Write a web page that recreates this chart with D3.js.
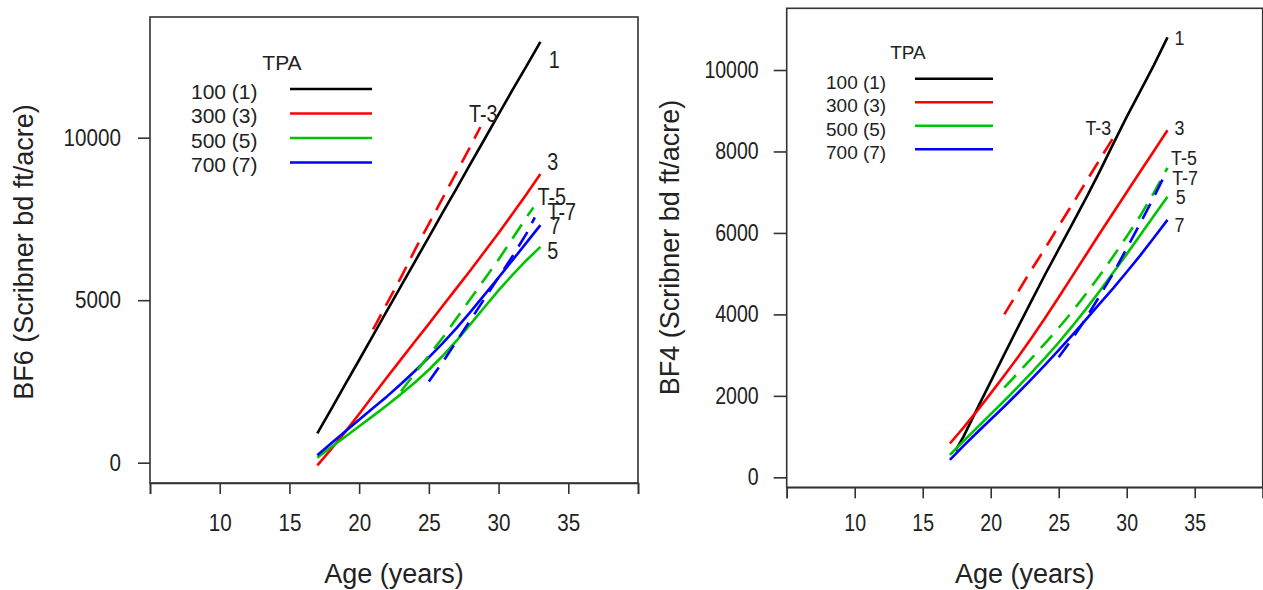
<!DOCTYPE html>
<html>
<head>
<meta charset="utf-8">
<script src="https://cdn.jsdelivr.net/npm/d3@7"></script>
<style>
  html, body { margin: 0; padding: 0; background: #fff; }
  svg { display: block; }
  text { font-family: "Liberation Sans", Arial, sans-serif; fill: #222; }
</style>
</head>
<body>
<svg id="chart" width="1263" height="590"></svg>
<script>
// ---- data ----------------------------------------------------------------
const tpaLabels = ["100 (1)", "300 (3)", "500 (5)", "700 (7)"];
const seriesColors = ["#000000", "#ff0000", "#00c400", "#0000ff"];
const xTicks = [5, 10, 15, 20, 25, 30, 35, 40];
const xTickLabels = ["", "10", "15", "20", "25", "30", "35", ""];

// stand age (years) for the untreated curves
const ages = [17, 18, 19, 20, 21, 22, 23, 24, 25, 26, 27, 28, 29, 30, 31, 32, 33];

// BF6 (Scribner bd ft/acre)
const bf6Tpa100 = [900, 1650, 2410, 3160, 3920, 4680, 5430, 6190, 6940, 7700, 8450, 9210, 9960, 10720, 11470, 12200, 12950];
const bf6Tpa300 = [-80, 420, 950, 1500, 2070, 2630, 3180, 3730, 4270, 4830, 5380, 5930, 6500, 7070, 7660, 8260, 8880];
const bf6Tpa500 = [150, 480, 800, 1120, 1440, 1770, 2110, 2470, 2860, 3290, 3760, 4270, 4790, 5300, 5780, 6230, 6640];
const bf6Tpa700 = [230, 600, 960, 1320, 1680, 2040, 2420, 2820, 3240, 3680, 4150, 4650, 5170, 5700, 6230, 6770, 7310];
// thinned to 300, 500, 700 TPA
const bf6T3Ages = [21, 22, 23, 24, 25, 26, 27, 28, 28.7];
const bf6T3 = [4100, 4900, 5700, 6550, 7350, 8150, 8950, 9750, 10330];
const bf6T5Ages = [23, 24, 25, 26, 27, 28, 29, 30, 31, 32, 32.5];
const bf6T5 = [2200, 2750, 3300, 3850, 4450, 5050, 5650, 6250, 6900, 7550, 7850];
const bf6T7Ages = [25, 26, 27, 28, 29, 30, 31, 32, 32.6];
const bf6T7 = [2500, 3100, 3750, 4400, 5050, 5700, 6350, 7050, 7550];

// BF4 (Scribner bd ft/acre)
const bf4Tpa100Ages = [17.4, 18, 19, 20, 21, 22, 23, 24, 25, 26, 27, 28, 29, 30, 31, 32, 33];
const bf4Tpa100 = [650, 1000, 1680, 2350, 3020, 3680, 4330, 4980, 5600, 6220, 6850, 7500, 8180, 8850, 9480, 10120, 10800];
const bf4Tpa300 = [830, 1220, 1630, 2060, 2500, 2950, 3420, 3910, 4420, 4940, 5460, 5980, 6490, 7000, 7510, 8010, 8520];
const bf4Tpa500 = [550, 890, 1220, 1550, 1880, 2220, 2570, 2930, 3310, 3710, 4130, 4570, 5020, 5480, 5950, 6420, 6890];
const bf4Tpa700 = [430, 770, 1100, 1420, 1740, 2070, 2410, 2760, 3120, 3490, 3870, 4260, 4640, 5040, 5450, 5880, 6320];
const bf4T3Ages = [21, 22, 23, 24, 25, 26, 27, 28, 29];
const bf4T3 = [4000, 4550, 5100, 5620, 6170, 6700, 7250, 7790, 8330];
const bf4T5Ages = [21, 22, 23, 24, 25, 26, 27, 28, 29, 30, 31, 32, 33];
const bf4T5 = [2200, 2560, 2920, 3290, 3670, 4070, 4500, 4950, 5420, 5910, 6420, 6990, 7600];
const bf4T7Ages = [25, 26, 27, 28, 29, 30, 31, 32, 32.85];
const bf4T7 = [2950, 3400, 3900, 4450, 5000, 5620, 6240, 6880, 7460];

// end-of-curve tags: text, age, value
const bf6Tags = [["1", 34.0, 12410], ["T-3", 28.9, 10750], ["3", 33.88, 9260], ["T-5", 33.81, 8185],
                 ["T-7", 34.53, 7720], ["7", 34.05, 7280], ["5", 33.88, 6520]];
const bf4Tags = [["1", 33.87, 10800], ["T-3", 27.91, 8590], ["3", 33.87, 8590], ["T-5", 34.21, 7850],
                 ["T-7", 34.29, 7360], ["5", 33.97, 6890], ["7", 33.87, 6220]];

// ---- drawing -------------------------------------------------------------
const svg = d3.select("#chart");

function zip(xs, ys) { return xs.map((x, i) => ({ x, y: ys[i] })); }

function panel(cfg) {
  const x = d3.scaleLinear().domain([5, 40]).range([cfg.left, cfg.right]);
  const y = d3.scaleLinear().domain(cfg.yDomain).range([cfg.bottom, cfg.top]);
  const g = svg.append("g");

  // frame
  g.append("rect")
    .attr("x", cfg.left).attr("y", cfg.top)
    .attr("width", cfg.right - cfg.left).attr("height", cfg.bottom - cfg.top)
    .attr("fill", "none").attr("stroke", "#333").attr("stroke-width", 1.6);

  // x axis
  const xa = g.append("g").attr("transform", `translate(0,${cfg.bottom})`)
    .call(d3.axisBottom(x).tickValues(xTicks).tickSize(cfg.xTickLen).tickPadding(cfg.xPad)
      .tickFormat((d, i) => xTickLabels[i]));
  xa.select(".domain").attr("stroke", "#333").attr("stroke-width", 1.6);
  xa.selectAll(".tick line").attr("stroke", "#333").attr("stroke-width", 1.6);
  xa.selectAll(".tick text").attr("font-size", cfg.tickFont).attr("fill", "#222")
    .attr("transform", `scale(${cfg.squeeze},1)`);

  // y axis
  const ya = g.append("g").attr("transform", `translate(${cfg.left},0)`)
    .call(d3.axisLeft(y).tickValues(cfg.yTicks).tickSize(cfg.yTickLen).tickPadding(cfg.yPad)
      .tickFormat(d3.format("d")));
  ya.select(".domain").remove();
  ya.selectAll(".tick line").attr("stroke", "#333").attr("stroke-width", 1.6);
  ya.selectAll(".tick text").attr("font-size", cfg.tickFont).attr("fill", "#222")
    .each(function () {
      const t = d3.select(this);
      t.attr("x", +t.attr("x") / cfg.squeeze).attr("transform", `scale(${cfg.squeeze},1)`);
    });

  // titles
  g.append("text").attr("x", (cfg.left + cfg.right) / 2).attr("y", cfg.xTitleY)
    .attr("text-anchor", "middle").attr("font-size", 27).text("Age (years)");
  g.append("text").attr("transform", `translate(${cfg.yTitleX},${cfg.yTitleY}) rotate(-90)`)
    .attr("text-anchor", "middle").attr("dy", "0.35em").attr("font-size", 27).text(cfg.yTitle);

  // curves
  const line = d3.line().x(d => x(d.x)).y(d => y(d.y));
  cfg.series.forEach(s => {
    g.append("path").datum(zip(s.ages, s.values))
      .attr("d", line).attr("fill", "none")
      .attr("stroke", seriesColors[s.color]).attr("stroke-width", 2.6)
      .attr("stroke-linejoin", "round")
      .attr("stroke-dasharray", s.dashed ? "17,10" : null);
  });

  // curve tags
  g.selectAll(null).data(cfg.tags).join("text")
    .attr("transform", d => `translate(${x(d[1])},${y(d[2])}) scale(${cfg.squeeze},1)`)
    .attr("text-anchor", "middle").attr("dy", "0.36em")
    .attr("font-size", cfg.tagFont).text(d => d[0]);

  // legend
  const L = cfg.legend;
  g.append("text").attr("x", L.titleX).attr("y", L.titleY).attr("dy", "0.36em")
    .attr("text-anchor", "middle").attr("font-size", L.font).text("TPA");
  tpaLabels.forEach((lab, i) => {
    const ly = L.y0 + i * L.step;
    g.append("text").attr("x", L.textX).attr("y", ly + L.textDy).attr("dy", "0.36em")
      .attr("font-size", L.font).text(lab);
    g.append("line").attr("x1", L.lineX1).attr("x2", L.lineX2).attr("y1", ly).attr("y2", ly)
      .attr("stroke", seriesColors[i]).attr("stroke-width", 2.6);
  });
}

panel({
  left: 150, right: 638, top: 17, bottom: 483,
  yDomain: [-625, 13714], yTicks: [0, 5000, 10000],
  xTickLen: 11, xPad: 20, yTickLen: 12, yPad: 17,
  tickFont: 24, squeeze: 0.86, tagFont: 23,
  xTitleY: 583, yTitleX: 24, yTitleY: 252,
  yTitle: "BF6 (Scribner bd ft/acre)",
  series: [
    { ages: ages, values: bf6Tpa100, color: 0 },
    { ages: ages, values: bf6Tpa300, color: 1 },
    { ages: ages, values: bf6Tpa500, color: 2 },
    { ages: ages, values: bf6Tpa700, color: 3 },
    { ages: bf6T3Ages, values: bf6T3, color: 1, dashed: true },
    { ages: bf6T5Ages, values: bf6T5, color: 2, dashed: true },
    { ages: bf6T7Ages, values: bf6T7, color: 3, dashed: true }
  ],
  tags: bf6Tags,
  legend: { font: 21, titleX: 282, titleY: 62, textX: 191, y0: 89, step: 24.5, textDy: 2,
            lineX1: 290, lineX2: 372 }
});

panel({
  left: 786.7, right: 1262.7, top: 8.3, bottom: 487.3,
  yDomain: [-245, 11515], yTicks: [0, 2000, 4000, 6000, 8000, 10000],
  xTickLen: 11, xPad: 16, yTickLen: 13, yPad: 15,
  tickFont: 23, squeeze: 0.85, tagFont: 21,
  xTitleY: 583, yTitleX: 670, yTitleY: 247.5,
  yTitle: "BF4 (Scribner bd ft/acre)",
  series: [
    { ages: bf4Tpa100Ages, values: bf4Tpa100, color: 0 },
    { ages: ages, values: bf4Tpa300, color: 1 },
    { ages: ages, values: bf4Tpa500, color: 2 },
    { ages: ages, values: bf4Tpa700, color: 3 },
    { ages: bf4T3Ages, values: bf4T3, color: 1, dashed: true },
    { ages: bf4T5Ages, values: bf4T5, color: 2, dashed: true },
    { ages: bf4T7Ages, values: bf4T7, color: 3, dashed: true }
  ],
  tags: bf4Tags,
  legend: { font: 19, titleX: 908, titleY: 52, textX: 826, y0: 78.7, step: 23.5, textDy: 3,
            lineX1: 915, lineX2: 993 }
});
</script>
</body>
</html>
